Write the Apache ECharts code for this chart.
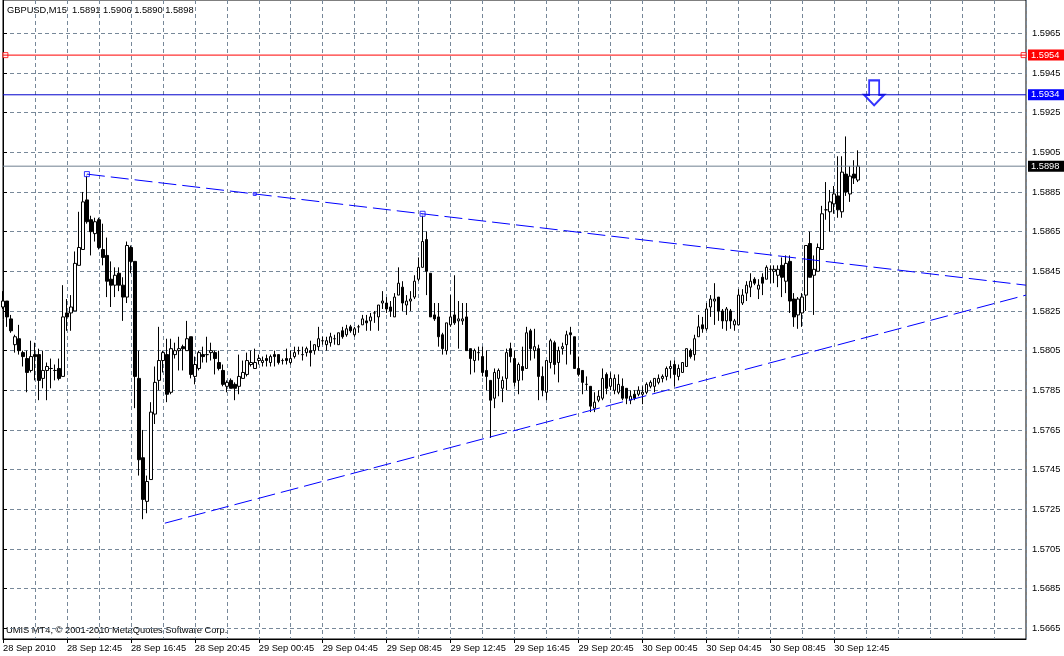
<!DOCTYPE html>
<html><head><meta charset="utf-8">
<script src="https://cdn.jsdelivr.net/npm/echarts@6/dist/echarts.min.js"></script>
<style>html,body{margin:0;padding:0;background:#fff}#c{width:1064px;height:656px}</style>
</head><body><div id="c"></div><script>
// GBPUSD M15 bars, index 0 = 28 Sep 2010 08:45
const opens = [
1.5827,1.5830,1.5821,1.5808,1.5811,1.5804,1.5801,1.5795,1.5803,1.5803,
1.5791,1.5795,1.5796,1.5795,1.5796,1.5792,1.5824,1.5824,1.5825,1.5848,
1.5856,1.5881,1.5871,1.5864,1.5871,1.5856,1.5853,1.5841,1.5838,1.5844,
1.5838,1.5832,1.5857,1.5850,1.5791,1.5751,1.5729,1.5740,1.5773,1.5790,
1.5800,1.5803,1.5784,1.5803,1.5805,1.5807,1.5805,1.5812,1.5792,1.5796,
1.5803,1.5803,1.5804,1.5804,1.5799,1.5795,1.5787,1.5790,1.5788,1.5787,
1.5791,1.5793,1.5798,1.5796,1.5800,1.5799,1.5801,1.5799,1.5803,1.5803,
1.5800,1.5801,1.5799,1.5802,1.5805,1.5803,1.5804,1.5805,1.5805,1.5807,
1.5810,1.5808,1.5809,1.5811,1.5808,1.5815,1.5813,1.5817,1.5813,1.5817,
1.5818,1.5820,1.5820,1.5824,1.5822,1.5829,1.5829,1.5827,1.5822,1.5833,
1.5837,1.5828,1.5830,1.5832,1.5841,1.5847,1.5861,1.5844,1.5823,1.5822,
1.5813,1.5805,1.5818,1.5823,1.5820,1.5820,1.5822,1.5806,1.5800,1.5804,
1.5802,1.5795,1.5790,1.5781,1.5791,1.5786,1.5791,1.5806,1.5801,1.5790,
1.5797,1.5796,1.5815,1.5805,1.5806,1.5792,1.5784,1.5799,1.5809,1.5799,
1.5806,1.5808,1.5814,1.5812,1.5796,1.5795,1.5788,1.5787,1.5776,1.5780,
1.5781,1.5793,1.5787,1.5785,1.5784,1.5787,1.5786,1.5780,1.5783,1.5783,
1.5783,1.5784,1.5787,1.5787,1.5789,1.5791,1.5792,1.5796,1.5798,1.5792,
1.5794,1.5797,1.5805,1.5803,1.5812,1.5818,1.5816,1.5827,1.5830,1.5832,
1.5825,1.5820,1.5825,1.5818,1.5818,1.5829,1.5834,1.5837,1.5841,1.5836,
1.5842,1.5841,1.5846,1.5845,1.5843,1.5848,1.5840,1.5850,1.5831,1.5823,
1.5824,1.5833,1.5859,1.5843,1.5845,1.5856,1.5876,1.5875,1.5879,1.5883,
1.5875,1.5894,1.5884,1.5894,1.5891];
const highs = [
1.5835,1.5830,1.5823,1.5813,1.5818,1.5805,1.5805,1.5810,1.5809,1.5806,
1.5805,1.5799,1.5801,1.5798,1.5801,1.5838,1.5831,1.5833,1.5855,1.5875,
1.5885,1.5894,1.5873,1.5872,1.5872,1.5869,1.5862,1.5850,1.5847,1.5847,
1.5842,1.5860,1.5858,1.5850,1.5805,1.5765,1.5742,1.5779,1.5797,1.5817,
1.5805,1.5811,1.5811,1.5809,1.5812,1.5808,1.5820,1.5812,1.5802,1.5805,
1.5807,1.5812,1.5809,1.5805,1.5805,1.5798,1.5790,1.5791,1.5789,1.5803,
1.5800,1.5804,1.5805,1.5806,1.5803,1.5802,1.5803,1.5803,1.5805,1.5803,
1.5801,1.5806,1.5805,1.5807,1.5807,1.5807,1.5807,1.5810,1.5808,1.5817,
1.5812,1.5812,1.5814,1.5813,1.5814,1.5817,1.5818,1.5818,1.5817,1.5818,
1.5823,1.5823,1.5824,1.5825,1.5828,1.5835,1.5832,1.5830,1.5834,1.5847,
1.5840,1.5833,1.5835,1.5843,1.5852,1.5874,1.5865,1.5844,1.5829,1.5829,
1.5814,1.5819,1.5833,1.5843,1.5830,1.5829,1.5829,1.5806,1.5806,1.5807,
1.5807,1.5805,1.5790,1.5796,1.5796,1.5792,1.5806,1.5809,1.5805,1.5799,
1.5807,1.5817,1.5816,1.5816,1.5808,1.5797,1.5800,1.5811,1.5810,1.5807,
1.5809,1.5815,1.5817,1.5812,1.5802,1.5795,1.5792,1.5787,1.5784,1.5785,
1.5796,1.5794,1.5794,1.5793,1.5793,1.5791,1.5786,1.5785,1.5785,1.5787,
1.5787,1.5789,1.5790,1.5791,1.5793,1.5793,1.5797,1.5800,1.5800,1.5798,
1.5799,1.5806,1.5806,1.5813,1.5823,1.5822,1.5829,1.5833,1.5839,1.5832,
1.5826,1.5827,1.5826,1.5821,1.5836,1.5836,1.5840,1.5844,1.5842,1.5841,
1.5844,1.5848,1.5848,1.5848,1.5848,1.5852,1.5853,1.5853,1.5834,1.5832,
1.5834,1.5858,1.5865,1.5853,1.5859,1.5878,1.5890,1.5886,1.5888,1.5903,
1.5903,1.5913,1.5898,1.5901,1.5906];
const lows = [
1.5826,1.5817,1.5814,1.5804,1.5803,1.5797,1.5784,1.5794,1.5790,1.5780,
1.5786,1.5780,1.5786,1.5790,1.5790,1.5792,1.5815,1.5815,1.5825,1.5848,
1.5856,1.5869,1.5853,1.5860,1.5856,1.5848,1.5832,1.5827,1.5832,1.5835,
1.5820,1.5829,1.5844,1.5776,1.5742,1.5720,1.5723,1.5740,1.5768,1.5785,
1.5794,1.5779,1.5783,1.5801,1.5795,1.5795,1.5805,1.5791,1.5788,1.5795,
1.5799,1.5799,1.5800,1.5793,1.5795,1.5787,1.5784,1.5786,1.5780,1.5783,
1.5791,1.5792,1.5797,1.5796,1.5798,1.5797,1.5797,1.5797,1.5797,1.5798,
1.5798,1.5798,1.5798,1.5801,1.5803,1.5800,1.5802,1.5797,1.5803,1.5805,
1.5808,1.5805,1.5807,1.5808,1.5808,1.5811,1.5812,1.5814,1.5812,1.5814,
1.5818,1.5815,1.5815,1.5819,1.5815,1.5826,1.5824,1.5822,1.5822,1.5833,
1.5825,1.5823,1.5825,1.5831,1.5840,1.5847,1.5833,1.5822,1.5820,1.5807,
1.5803,1.5803,1.5817,1.5818,1.5806,1.5818,1.5805,1.5793,1.5794,1.5800,
1.5792,1.5785,1.5761,1.5776,1.5782,1.5779,1.5785,1.5799,1.5787,1.5783,
1.5790,1.5796,1.5800,1.5801,1.5780,1.5782,1.5780,1.5796,1.5793,1.5789,
1.5803,1.5798,1.5803,1.5796,1.5792,1.5783,1.5785,1.5774,1.5774,1.5779,
1.5780,1.5783,1.5785,1.5783,1.5783,1.5780,1.5778,1.5778,1.5780,1.5782,
1.5778,1.5783,1.5786,1.5784,1.5788,1.5789,1.5790,1.5791,1.5787,1.5790,
1.5794,1.5797,1.5801,1.5800,1.5812,1.5814,1.5815,1.5822,1.5818,1.5820,
1.5816,1.5815,1.5816,1.5815,1.5818,1.5828,1.5830,1.5832,1.5838,1.5831,
1.5833,1.5841,1.5839,1.5839,1.5837,1.5832,1.5834,1.5824,1.5817,1.5816,
1.5817,1.5825,1.5842,1.5823,1.5845,1.5856,1.5871,1.5865,1.5874,1.5872,
1.5872,1.5883,1.5880,1.5889,1.5890];
const closes = [
1.5830,1.5822,1.5815,1.5812,1.5805,1.5802,1.5794,1.5802,1.5802,1.5790,
1.5795,1.5797,1.5796,1.5795,1.5791,1.5822,1.5822,1.5827,1.5849,1.5857,
1.5880,1.5870,1.5865,1.5870,1.5857,1.5852,1.5840,1.5838,1.5843,1.5838,
1.5832,1.5858,1.5850,1.5792,1.5750,1.5730,1.5739,1.5774,1.5789,1.5800,
1.5804,1.5783,1.5806,1.5805,1.5806,1.5806,1.5811,1.5793,1.5798,1.5804,
1.5802,1.5803,1.5805,1.5801,1.5796,1.5788,1.5789,1.5786,1.5786,1.5792,
1.5794,1.5800,1.5799,1.5799,1.5801,1.5800,1.5800,1.5802,1.5802,1.5799,
1.5800,1.5800,1.5801,1.5804,1.5805,1.5803,1.5806,1.5804,1.5808,1.5811,
1.5810,1.5810,1.5812,1.5811,1.5814,1.5812,1.5816,1.5815,1.5816,1.5817,
1.5821,1.5819,1.5822,1.5824,1.5828,1.5830,1.5826,1.5825,1.5832,1.5839,
1.5829,1.5830,1.5831,1.5840,1.5847,1.5860,1.5845,1.5822,1.5821,1.5812,
1.5806,1.5819,1.5822,1.5819,1.5821,1.5821,1.5805,1.5801,1.5805,1.5804,
1.5794,1.5792,1.5780,1.5794,1.5795,1.5790,1.5804,1.5802,1.5789,1.5798,
1.5795,1.5814,1.5806,1.5807,1.5792,1.5785,1.5800,1.5810,1.5798,1.5805,
1.5807,1.5813,1.5813,1.5796,1.5793,1.5789,1.5788,1.5777,1.5779,1.5782,
1.5791,1.5786,1.5791,1.5791,1.5788,1.5781,1.5781,1.5782,1.5781,1.5785,
1.5784,1.5788,1.5789,1.5791,1.5791,1.5792,1.5796,1.5797,1.5793,1.5796,
1.5799,1.5806,1.5802,1.5811,1.5817,1.5816,1.5826,1.5831,1.5831,1.5825,
1.5820,1.5826,1.5820,1.5820,1.5833,1.5833,1.5838,1.5840,1.5839,1.5838,
1.5839,1.5847,1.5846,1.5846,1.5846,1.5842,1.5849,1.5830,1.5822,1.5831,
1.5832,1.5858,1.5842,1.5846,1.5857,1.5874,1.5876,1.5880,1.5884,1.5876,
1.5895,1.5885,1.5893,1.5892,1.5898];

const timeTickLabels = ['28 Sep 2010','28 Sep 12:45','28 Sep 16:45','28 Sep 20:45','29 Sep 00:45',
  '29 Sep 04:45','29 Sep 08:45','29 Sep 12:45','29 Sep 16:45','29 Sep 20:45','30 Sep 00:45',
  '30 Sep 04:45','30 Sep 08:45','30 Sep 12:45'];
const priceTicks = [1.5665,1.5685,1.5705,1.5725,1.5745,1.5765,1.5785,1.5805,1.5825,1.5845,
  1.5865,1.5885,1.5905,1.5925,1.5945,1.5965];
const titleText = 'GBPUSD,M15  1.5891 1.5906 1.5890 1.5898';
const footerText = 'UMIS MT4, \u00a9 2001-2010 MetaQuotes Software Corp.';

const levelRed = 1.5954;
const levelBlue = 1.5934;
const levelBid = 1.5898;
const upperTrend = [[21, 1.5894], [256, 1.5838]];
const upperHandles = [[21, 1.5894], [105, 1.5874]];
const upperMidHandle = [[63, 1.5884]];
const lowerTrend = [[40.5, 1.5718], [256, 1.5833]];
const redHandles = [[0.6, 1.5954], [255.4, 1.5954]];
const arrowPoint = [[218, 1.5935]];

const slotCount = 257;            // visible bar slots incl. chart shift
const barsPerLabel = 16;
const barsPerGrid = 8;

const categories = [];
for (let i = 0; i < slotCount; i++) categories.push(String(i));
const candleData = opens.map((o, i) => [o, closes[i], lows[i], highs[i]]);

const FONT = 'Liberation Sans';
const FS = 9.3;
const gridColor = '#778899';

const chart = echarts.init(document.getElementById('c'), null, {renderer: 'canvas'});
const labelShown = i => i % barsPerLabel === 0 && (i / barsPerLabel) < timeTickLabels.length;

function levelSeries(level, lineColor, boxColor) {
  return {
    type: 'line', xAxisIndex: 1, data: [[0, level], [slotCount - 1, level]], symbol: 'none', silent: true,
    lineStyle: {color: lineColor, width: 1, type: 'solid'},
    endLabel: {show: true, distance: 2, formatter: () => level.toFixed(4), color: '#fff',
      backgroundColor: boxColor, padding: [1, 5, 1, 3], fontFamily: FONT, fontSize: FS}
  };
}

chart.setOption({
  animation: false,
  backgroundColor: '#ffffff',
  grid: {left: 3, right: 38, top: 0, bottom: 17, show: true, borderColor: '#000', borderWidth: 1, backgroundColor: '#fff'},
  xAxis: [{
    type: 'category', data: categories, boundaryGap: false,
    axisLine: {show: true, lineStyle: {color: '#000', width: 1}},
    axisTick: {show: true, interval: (i) => labelShown(i), length: 4, lineStyle: {color: '#000'}},
    axisLabel: {interval: (i) => labelShown(i), formatter: (v, i) => timeTickLabels[i / barsPerLabel] || '',
      align: 'left', margin: 5, color: '#000', fontFamily: FONT, fontSize: FS},
    splitLine: {show: true, interval: (i) => i % barsPerGrid === 0 && i > 0,
      lineStyle: {color: gridColor, type: [4, 3], width: 1}}
  }, {
    type: 'value', min: 0, max: slotCount - 1, show: false
  }],
  yAxis: {
    type: 'value', position: 'right', min: 1.565960, max: 1.598179,
    axisLine: {show: true, lineStyle: {color: '#000', width: 1}},
    axisTick: {show: true, length: 4, customValues: priceTicks, lineStyle: {color: '#000'}},
    axisLabel: {customValues: priceTicks, formatter: v => v.toFixed(4), margin: 6, color: '#000',
      fontFamily: FONT, fontSize: FS},
    splitLine: {show: true, lineStyle: {color: gridColor, type: [4, 3], width: 1}}
  },
  graphic: [
    {type: 'text', left: 7, top: 6, style: {text: titleText, fill: '#000', fontFamily: FONT, fontSize: FS}},
    {type: 'text', left: 6, top: 626, style: {text: footerText, fill: '#000', fontFamily: FONT, fontSize: FS}}
  ],
  series: [{
    type: 'candlestick', xAxisIndex: 0, yAxisIndex: 0, data: candleData, barWidth: 3,
    itemStyle: {color: '#fff', color0: '#000', borderColor: '#000', borderColor0: '#000',
      borderColorDoji: '#000', borderWidth: 1}
  },
  levelSeries(levelRed, '#ff0000', '#ff0000'),
  levelSeries(levelBlue, '#0000cc', '#0000ff'),
  levelSeries(levelBid, '#708090', '#000000'),
  {
    type: 'line', xAxisIndex: 1, data: upperTrend, symbol: 'none', silent: true,
    lineStyle: {color: '#0000ff', width: 1, type: [18, 6]}
  }, {
    type: 'line', xAxisIndex: 1, data: lowerTrend, symbol: 'none', silent: true,
    lineStyle: {color: '#0000ff', width: 1, type: [18, 6]}
  }, {
    type: 'scatter', xAxisIndex: 1, data: upperHandles, symbol: 'rect', symbolSize: 5, silent: true,
    itemStyle: {color: '#fff', borderColor: '#0000ff', borderWidth: 1}
  }, {
    type: 'scatter', xAxisIndex: 1, data: upperMidHandle, symbol: 'rect', symbolSize: 3, silent: true,
    itemStyle: {color: '#fff', borderColor: '#0000ff', borderWidth: 1}
  }, {
    type: 'scatter', xAxisIndex: 1, data: redHandles, symbol: 'rect', symbolSize: 5, silent: true,
    itemStyle: {color: '#fff', borderColor: '#ff0000', borderWidth: 1}
  }, {
    type: 'scatter', xAxisIndex: 1, data: arrowPoint, silent: true,
    symbol: 'path://M5 0H15V14H20L10 24L0 14H5Z', symbolSize: [20, 25],
    itemStyle: {color: '#fff', borderColor: '#0000ff', borderWidth: 2}
  }]
});
</script></body></html>
